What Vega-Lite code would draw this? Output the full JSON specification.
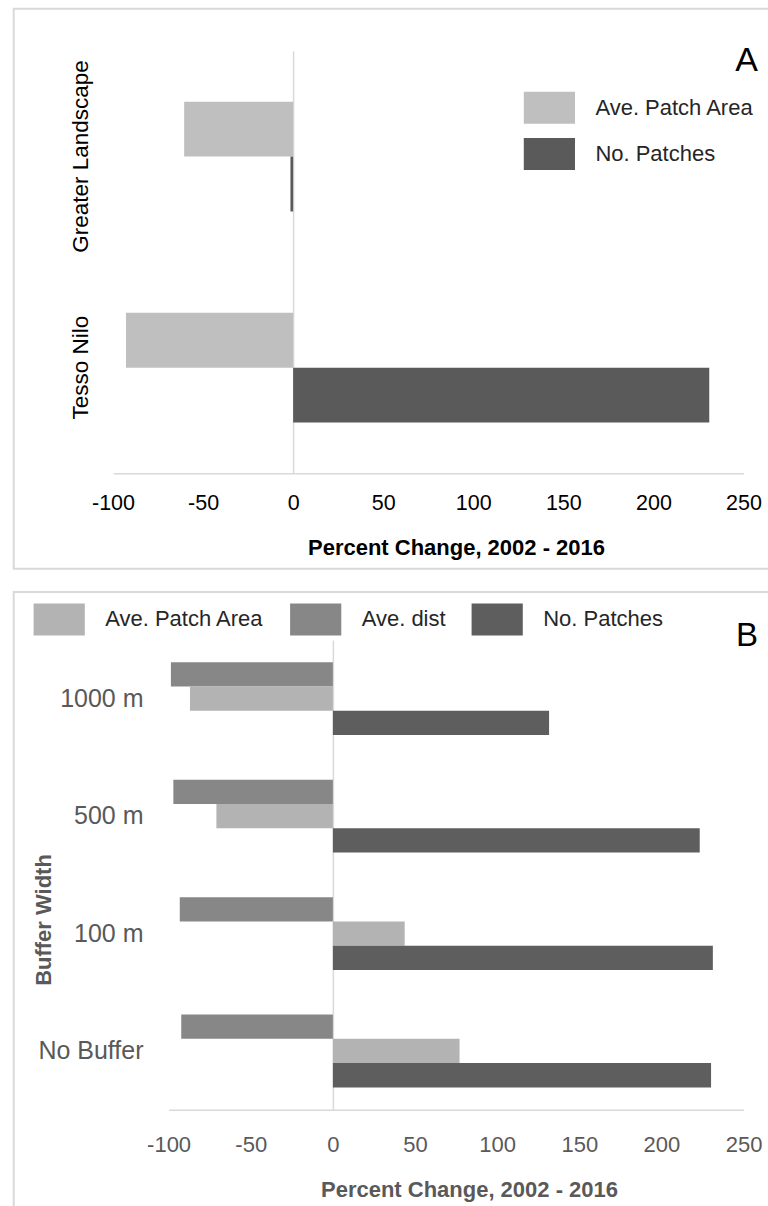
{
  "$schema": "https://vega.github.io/schema/vega-lite/v6.json",
  "padding": {"left": 12.7, "top": 7.7, "right": 0, "bottom": 0},
  "spacing": 21.3,
  "resolve": {
    "scale": {"x": "independent", "y": "independent", "yOffset": "independent", "color": "independent"},
    "legend": {"color": "independent"},
    "axis": {"x": "independent", "y": "independent"}
  },
  "config": {
    "font": "Liberation Sans",
    "view": {"stroke": "#d9d9d9", "strokeWidth": 2},
    "axis": {"labelFont": "Liberation Sans", "titleFont": "Liberation Sans"},
    "legend": {"labelFont": "Liberation Sans"}
  },
  "vconcat": [
    {
      "width": 757,
      "height": 560,
      "data": {"values": [
        {"region": "Greater Landscape", "series": "Ave. Patch Area", "value": -60.5},
        {"region": "Greater Landscape", "series": "No. Patches", "value": -1.5},
        {"region": "Tesso Nilo", "series": "Ave. Patch Area", "value": -92.8},
        {"region": "Tesso Nilo", "series": "No. Patches", "value": 231}
      ]},
      "title": {"text": "A", "anchor": "end", "orient": "top", "offset": 0, "dy": 95.9, "dx": -12.7, "baseline": "alphabetic", "fontSize": 34, "fontWeight": "normal", "font": "Liberation Sans", "color": "#000000"},
      "mark": {"type": "bar"},
      "encoding": {
        "y": {
          "field": "region", "type": "nominal",
          "sort": ["Greater Landscape", "Tesso Nilo"],
          "scale": {"range": [42.3, 464.6], "paddingInner": 0.48, "paddingOuter": 0.24},
          "axis": {"title": null, "orient": "left", "offset": -279.4, "labelPadding": 200.4, "labelAngle": -90, "labelAlign": "center", "labelBaseline": "bottom", "labelFontSize": 22.5, "labelLimit": 400, "labelColor": "#000000", "domain": true, "domainColor": "#d9d9d9", "domainWidth": 1.5, "ticks": false, "grid": false}
        },
        "yOffset": {"field": "series", "type": "nominal", "sort": ["Ave. Patch Area", "No. Patches"], "scale": {"paddingInner": 0, "paddingOuter": 0}},
        "x": {
          "field": "value", "type": "quantitative",
          "scale": {"domain": [-100, 250], "range": [99.3, 729.8], "nice": false, "zero": false},
          "axis": {"values": [-100, -50, 0, 50, 100, 150, 200, 250], "labelExpr": "'' + datum.value", "labelFlush": false, "offset": -95.4, "domainColor": "#d9d9d9", "domainWidth": 1.5, "ticks": false, "grid": false, "labelPadding": 19, "labelFontSize": 21.5, "labelColor": "#000000", "title": "Percent Change, 2002 - 2016", "titleFontSize": 22, "titleFontWeight": "bold", "titleColor": "#000000", "titlePadding": 24, "titleX": 442.3}
        },
        "color": {
          "field": "series", "type": "nominal",
          "scale": {"domain": ["Ave. Patch Area", "No. Patches"], "range": ["#bfbfbf", "#5a5a5a"]},
          "legend": {"orient": "none", "legendX": 519.7, "legendY": 83, "title": null, "symbolType": "M-1.6,-1H1.6V1H-1.6Z", "symbolSize": 1024, "symbolStrokeWidth": 0, "symbolOpacity": 1, "labelFontSize": 22, "labelColor": "#262626", "labelOffset": 30, "rowPadding": 14.3, "padding": 0, "labelLimit": 400}
        }
      }
    },
    {
      "width": 757,
      "height": 622,
      "data": {"values": [
        {"buffer": "1000 m", "series": "Ave. dist", "value": -98.6},
        {"buffer": "1000 m", "series": "Ave. Patch Area", "value": -87},
        {"buffer": "1000 m", "series": "No. Patches", "value": 131.6},
        {"buffer": "500 m", "series": "Ave. dist", "value": -97.1},
        {"buffer": "500 m", "series": "Ave. Patch Area", "value": -70.9},
        {"buffer": "500 m", "series": "No. Patches", "value": 223.3},
        {"buffer": "100 m", "series": "Ave. dist", "value": -93.2},
        {"buffer": "100 m", "series": "Ave. Patch Area", "value": 43.7},
        {"buffer": "100 m", "series": "No. Patches", "value": 231.3},
        {"buffer": "No Buffer", "series": "Ave. dist", "value": -92.3},
        {"buffer": "No Buffer", "series": "Ave. Patch Area", "value": 77.1},
        {"buffer": "No Buffer", "series": "No. Patches", "value": 230.2}
      ]},
      "title": {"text": "B", "anchor": "end", "orient": "top", "offset": 0, "dy": 86.7, "dx": -12.7, "baseline": "alphabetic", "fontSize": 33, "fontWeight": "normal", "font": "Liberation Sans", "color": "#000000"},
      "mark": {"type": "bar"},
      "encoding": {
        "y": {
          "field": "buffer", "type": "nominal",
          "sort": ["1000 m", "500 m", "100 m", "No Buffer"],
          "scale": {"range": [48, 517.7], "paddingInner": 0.38, "paddingOuter": 0.19},
          "axis": {"orient": "left", "offset": -319.2, "labelPadding": 189.9, "labelAlign": "right", "labelBaseline": "middle", "labelFontSize": 25, "labelColor": "#595959", "domain": true, "domainColor": "#d9d9d9", "domainWidth": 1.5, "ticks": false, "grid": false, "title": "Buffer Width", "titleFontSize": 22, "titleFontWeight": "bold", "titleColor": "#595959", "titleX": -289.4, "titleY": 327.5, "titleAngle": -90, "titleBaseline": "middle", "titleAlign": "center"}
        },
        "yOffset": {"field": "series", "type": "nominal", "sort": ["Ave. dist", "Ave. Patch Area", "No. Patches"], "scale": {"paddingInner": 0, "paddingOuter": 0}},
        "x": {
          "field": "value", "type": "quantitative",
          "scale": {"domain": [-100, 250], "range": [154.9, 729.9], "nice": false, "zero": false},
          "axis": {"values": [-100, -50, 0, 50, 100, 150, 200, 250], "labelExpr": "'' + datum.value", "labelFlush": false, "offset": -104.3, "domainColor": "#d9d9d9", "domainWidth": 1.5, "ticks": false, "grid": false, "labelPadding": 25, "labelFontSize": 22, "labelColor": "#595959", "title": "Percent Change, 2002 - 2016", "titleFontSize": 22, "titleFontWeight": "bold", "titleColor": "#595959", "titlePadding": 24, "titleX": 455.3}
        },
        "color": {
          "field": "series", "type": "nominal",
          "scale": {"domain": ["Ave. Patch Area", "Ave. dist", "No. Patches"], "range": ["#b3b3b3", "#878787", "#5e5e5e"]},
          "legend": {"orient": "none", "direction": "horizontal", "legendX": 29.5, "legendY": 11.5, "title": null, "symbolType": "M-1.6,-1H1.6V1H-1.6Z", "symbolSize": 1024, "symbolStrokeWidth": 0, "symbolOpacity": 1, "labelFontSize": 22, "labelColor": "#262626", "labelOffset": 30, "columnPadding": 25.5, "padding": 0, "labelLimit": 400}
        }
      }
    }
  ]
}
